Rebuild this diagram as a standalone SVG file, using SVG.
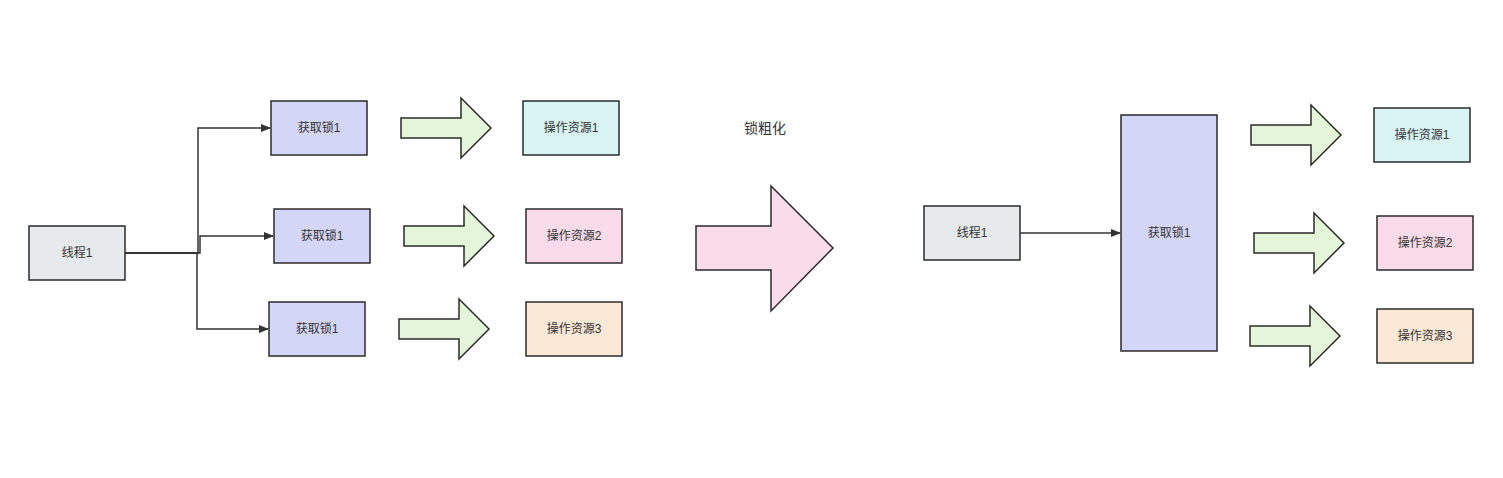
<svg xmlns="http://www.w3.org/2000/svg" width="1503" height="478" viewBox="0 0 1503 478">
<defs>
<style>
.b{stroke:#2b2b2b;stroke-width:1.5}
.t{font-family:"Liberation Sans","Noto Sans CJK SC",sans-serif;font-size:12px;fill:#333;text-anchor:middle;dominant-baseline:central}
.g{fill:#e5f5d9}.th{fill:#e7eaed}.lk{fill:#d3d6f7}.c{fill:#d9f4f5}.p{fill:#f9dbea}.o{fill:#fbe8d6}
.ln{stroke:#333;stroke-width:1.5;fill:none}
</style>
<marker id="a" markerWidth="10" markerHeight="8" refX="9" refY="4" orient="auto" markerUnits="userSpaceOnUse"><path d="M0,0L10,4L0,8Z" fill="#333"/></marker>
<path id="ga" d="M0,20H60V0L90,30L60,60V40H0Z"/>
</defs>
<rect width="1503" height="478" fill="#fff"/>
<g id="connectors">
<path class="ln" d="M125,253H198V128H270" marker-end="url(#a)"/>
<path class="ln" d="M125,253H200V236H273" marker-end="url(#a)"/>
<path class="ln" d="M125,253H197V329H268" marker-end="url(#a)"/>
<path class="ln" d="M1020,233H1120" marker-end="url(#a)"/>
</g>
<g id="thread-l"><rect class="b th" x="29" y="226" width="96" height="54"/><text class="t" x="77" y="253">线程1</text></g>
<g id="lock-l1"><rect class="b lk" x="271" y="101" width="96" height="54"/><text class="t" x="319" y="128">获取锁1</text></g>
<g id="lock-l2"><rect class="b lk" x="274" y="209" width="96" height="54"/><text class="t" x="322" y="236">获取锁1</text></g>
<g id="lock-l3"><rect class="b lk" x="269" y="302" width="96" height="54"/><text class="t" x="317" y="329">获取锁1</text></g>
<g id="arrows-l">
<use href="#ga" class="b g" x="401" y="98"/>
<use href="#ga" class="b g" x="404" y="206"/>
<use href="#ga" class="b g" x="399" y="299"/>
</g>
<g id="res-l1"><rect class="b c" x="523" y="101" width="96" height="54"/><text class="t" x="571" y="128">操作资源1</text></g>
<g id="res-l2"><rect class="b p" x="526" y="209" width="96" height="54"/><text class="t" x="574" y="236">操作资源2</text></g>
<g id="res-l3"><rect class="b o" x="526" y="302" width="96" height="54"/><text class="t" x="574" y="329">操作资源3</text></g>
<g id="big"><path class="b p" d="M696,226H771V186L833,248L771,311V270H696Z"/><text class="t" x="765" y="128" style="font-size:14px">锁粗化</text></g>
<g id="thread-r"><rect class="b th" x="924" y="206" width="96" height="54"/><text class="t" x="972" y="233">线程1</text></g>
<g id="lock-r"><rect class="b lk" x="1121" y="115" width="96" height="236"/><text class="t" x="1169" y="233">获取锁1</text></g>
<g id="arrows-r">
<use href="#ga" class="b g" x="1251" y="105"/>
<use href="#ga" class="b g" x="1254" y="213"/>
<use href="#ga" class="b g" x="1250" y="306"/>
</g>
<g id="res-r1"><rect class="b c" x="1374" y="108" width="96" height="54"/><text class="t" x="1422" y="135">操作资源1</text></g>
<g id="res-r2"><rect class="b p" x="1377" y="216" width="96" height="54"/><text class="t" x="1425" y="243">操作资源2</text></g>
<g id="res-r3"><rect class="b o" x="1377" y="309" width="96" height="54"/><text class="t" x="1425" y="336">操作资源3</text></g>
</svg>
